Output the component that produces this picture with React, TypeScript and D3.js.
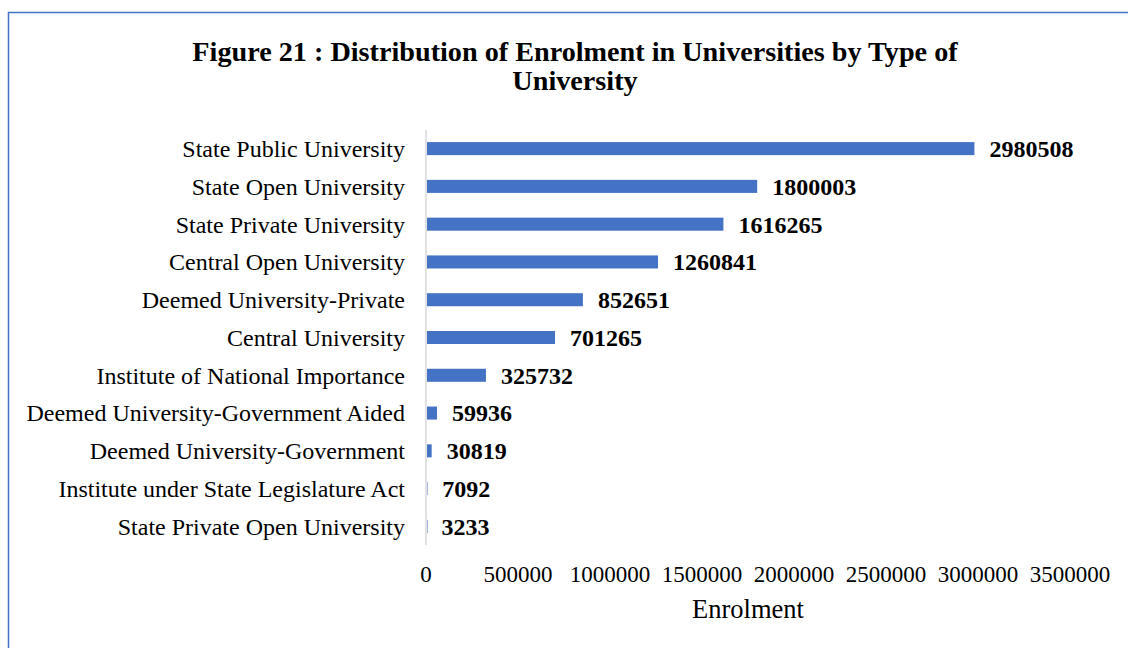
import React from 'react';
import * as d3 from 'd3';

const categories = [
  'State Public University',
  'State Open University',
  'State Private University',
  'Central Open University',
  'Deemed University-Private',
  'Central University',
  'Institute of National Importance',
  'Deemed University-Government Aided',
  'Deemed University-Government',
  'Institute under State Legislature Act',
  'State Private Open University',
];
const enrolment = [2980508, 1800003, 1616265, 1260841, 852651, 701265, 325732, 59936, 30819, 7092, 3233];
const xTicks = [0, 500000, 1000000, 1500000, 2000000, 2500000, 3000000, 3500000];
const titleLines = ['Figure 21 : Distribution of Enrolment in Universities by Type of', 'University'];
const xAxisTitle = 'Enrolment';

const W = 1128;
const H = 648;
const font = '"Liberation Serif", "Times New Roman", serif';
const barColor = '#4472C4';

export default function App() {
  const x = d3.scaleLinear().domain([0, 3500000]).range([426, 1070]);
  const y = d3.scaleBand<string>()
    .domain(categories)
    .range([130, 545])
    .paddingInner(0.655)
    .paddingOuter(0.32);

  const data = categories.map((c, i) => ({ c, v: enrolment[i] }));

  return (
    <svg width={W} height={H} style={{ position: 'fixed', left: 0, top: 0, background: '#fff' }}
      fontFamily={font}>
      {/* chart area border, runs off the right and bottom edges */}
      <rect x={8.5} y={12.5} width={W + 20} height={H + 20} fill="none" stroke={barColor} strokeWidth={1.5} />

      {titleLines.map((t, i) => (
        <text key={i} x={575} y={61 + i * 29} textAnchor="middle" fontSize={28.2} fontWeight="bold" fill="#000">{t}</text>
      ))}

      {/* category axis line */}
      <line x1={x(0)} x2={x(0)} y1={130} y2={545} stroke="#d9d9d9" strokeWidth={1.5} />

      {data.map(d => {
        const yc = (y(d.c) ?? 0) + y.bandwidth() / 2;
        return (
          <g key={d.c}>
            <text x={405} y={yc} dy="0.35em" textAnchor="end" fontSize={24} fill="#000">{d.c}</text>
            <rect x={x(0) + 1} y={y(d.c)} width={Math.max(0.5, x(d.v) - x(0) - 1)} height={y.bandwidth()} fill={barColor} />
            <text x={x(d.v) + 15} y={yc} dy="0.35em" fontSize={24} fontWeight="bold" fill="#000">{d.v}</text>
          </g>
        );
      })}

      {xTicks.map(t => (
        <text key={t} x={x(t)} y={582} textAnchor="middle" fontSize={23} fill="#000">{t}</text>
      ))}

      <text x={(x(0) + x(3500000)) / 2} y={618} textAnchor="middle" fontSize={26.5} fill="#000">{xAxisTitle}</text>
    </svg>
  );
}
